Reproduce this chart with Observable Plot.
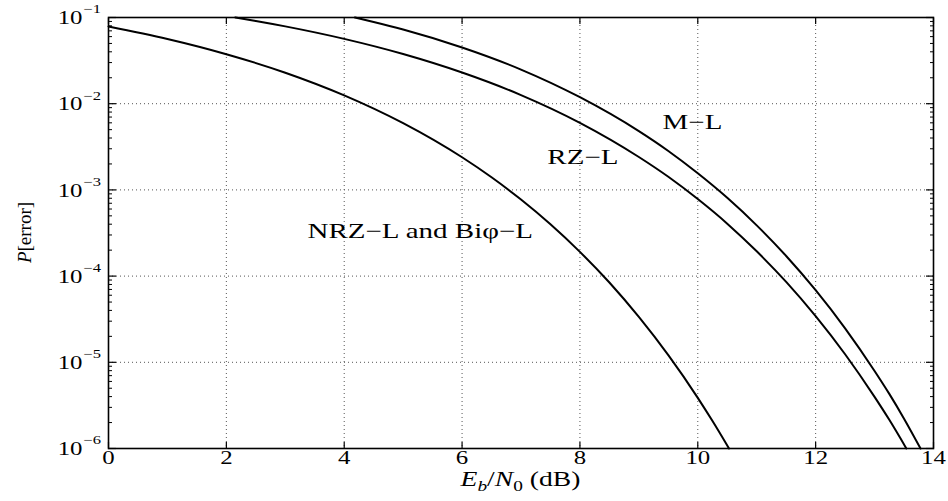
<!DOCTYPE html>
<html><head><meta charset="utf-8">
<script src="https://cdn.jsdelivr.net/npm/d3@7"></script>
<script src="https://cdn.jsdelivr.net/npm/@observablehq/plot@0.6"></script>
<style>
html,body{margin:0;padding:0;background:#fff;}
</style>
</head><body><div id="chart"></div>
<script>
// NRZ-L and Biphi-L
const nrzX = [0,1,2,3,4,5,6,6.5,7,7.5,8,8.5,9,9.5,10,10.25,10.53];
const nrzP = [0.0786,0.0563,0.0375,0.0229,0.0125,0.00595,0.00239,0.00140,7.73e-4,3.99e-4,1.91e-4,8.42e-5,3.36e-5,1.21e-5,3.87e-6,2.08e-6,1e-6];
// RZ-L
const rzX = [2.15,2.5,3,4,5,6,7,8,9,9.5,10,10.5,11,11.5,12,12.5,13,13.25,13.54];
const rzP = [0.1,0.0912,0.0789,0.0565,0.0377,0.0230,0.0126,0.0060,0.00241,0.00142,7.83e-4,4.06e-4,1.94e-4,8.56e-5,3.43e-5,1.24e-5,3.97e-6,2.15e-6,1e-6];
// M-L
const mlX = [4.18,4.5,5,6,7,8,9,9.5,10,10.5,11,11.5,12,12.5,13,13.25,13.5,13.78];
const mlP = [0.1,0.0888,0.0726,0.0449,0.0249,0.0119,0.00481,0.00283,0.00156,8.1e-4,3.88e-4,1.71e-4,6.86e-5,2.48e-5,7.94e-6,4.3e-6,2.22e-6,1e-6];

const xTicks = [0,2,4,6,8,10,12,14];
const xTickLabels = ["0","2","4","6","8","10","12","14"];
const yTicks = [1e-1,1e-2,1e-3,1e-4,1e-5,1e-6];
const yTickExp = ["\u22121","\u22122","\u22123","\u22124","\u22125","\u22126"];

const labelText = ["M\u2212L","RZ\u2212L","NRZ\u2212L and Bi\u03c6\u2212L"];
const labelX = [9.91, 8.05, 5.29];
const labelY = [6.05e-3, 2.38e-3, 3.33e-4];

const series = [
  ...nrzX.map((x,i)=>({x, p:nrzP[i], s:"NRZ"})),
  ...rzX.map((x,i)=>({x, p:rzP[i], s:"RZ"})),
  ...mlX.map((x,i)=>({x, p:mlP[i], s:"ML"}))
];

const minorTicks = [];
for (let e = -6; e <= -2; e++) for (let k = 2; k <= 9; k++) minorTicks.push(k * Math.pow(10, e));

const gridStyle = {stroke:"#555", strokeOpacity:1, strokeWidth:1, strokeDasharray:"1,3"};
const noText = () => "";

const plot = Plot.plot({
  width: 948, height: 501,
  marginLeft: 108, marginRight: 15, marginTop: 17, marginBottom: 53,
  style: {fontFamily: "'Liberation Serif', serif", background: "white", color: "black"},
  x: {domain: [0,14]},
  y: {type: "log", domain: [1e-6, 1e-1]},
  marks: [
    Plot.gridX(xTicks.slice(1,-1), gridStyle),
    Plot.gridY(yTicks.slice(1,-1), gridStyle),
    Plot.axisX({ticks: xTicks, anchor:"bottom", tickSize:6, dy:-6, tickFormat:noText, label:null, strokeWidth:1.2}),
    Plot.axisX({ticks: xTicks, anchor:"top", tickSize:6, dy:6, tickFormat:noText, label:null, strokeWidth:1.2}),
    Plot.axisY({ticks: yTicks, anchor:"left", tickSize:8, dx:8, tickFormat:noText, label:null, strokeWidth:1.2}),
    Plot.axisY({ticks: yTicks, anchor:"right", tickSize:8, dx:-8, tickFormat:noText, label:null, strokeWidth:1.2}),
    Plot.axisY({ticks: minorTicks, anchor:"left", tickSize:4, dx:4, tickFormat:noText, label:null}),
    Plot.axisY({ticks: minorTicks, anchor:"right", tickSize:4, dx:-4, tickFormat:noText, label:null}),
    Plot.line(series, {x:"x", y:"p", z:"s", stroke:"black", strokeWidth:2, curve:"monotone-x"}),
    Plot.frame({stroke:"black", strokeWidth:1.6}),
    Plot.text(xTicks, {x: d=>d, text: (d,i)=>xTickLabels[i], frameAnchor:"bottom", dy:15, fontSize:18}),
    Plot.text(yTicks, {y: d=>d, text: ()=>"10", frameAnchor:"left", dx:-26, dy:1, textAnchor:"end", fontSize:18}),
    Plot.text(yTicks, {y: d=>d, text: (d,i)=>yTickExp[i], frameAnchor:"left", dx:-25, dy:-8, textAnchor:"start", fontSize:12}),
    Plot.text(labelText, {x: (d,i)=>labelX[i], y: (d,i)=>labelY[i], text: d=>d, fontSize:21})
  ]
});

document.getElementById("chart").appendChild(plot);

const svg = d3.select(plot);
const xs = plot.scale("x"), ys = plot.scale("y");
const cx = (xs.range[0] + xs.range[1]) / 2;
const cy = (ys.range[0] + ys.range[1]) / 2;

// x-axis label
const xl = svg.append("text")
  .attr("x", cx).attr("y", 486)
  .attr("text-anchor", "middle")
  .attr("font-size", 20)
  .attr("font-family", "'Liberation Serif', serif")
  .attr("fill", "black");
xl.append("tspan").attr("font-style","italic").text("E");
xl.append("tspan").attr("font-style","italic").attr("font-size",14).attr("dy",5).text("b");
xl.append("tspan").attr("dy",-5).text("/");
xl.append("tspan").attr("font-style","italic").text("N");
xl.append("tspan").attr("font-size",14).attr("dy",5).text("0");
xl.append("tspan").attr("dy",-5).text(" (dB)");

// y-axis label
const yl = svg.append("text")
  .attr("transform", `translate(31,${cy}) rotate(-90)`)
  .attr("text-anchor", "middle")
  .attr("font-size", 19)
  .attr("font-family", "'Liberation Serif', serif")
  .attr("fill", "black");
yl.append("tspan").attr("font-style","italic").text("P");
yl.append("tspan").text("[error]");

// horizontal stretch of the reference's text
const stretch = 1.38;
plot.querySelectorAll("text").forEach(t => {
  if (t === yl.node()) return;
  const s = t.textContent;
  if (!s || !s.trim()) return;
  const w = t.getComputedTextLength();
  if (w > 0) {
    t.setAttribute("textLength", w * stretch);
    t.setAttribute("lengthAdjust", "spacingAndGlyphs");
  }
});
</script>
</body></html>
